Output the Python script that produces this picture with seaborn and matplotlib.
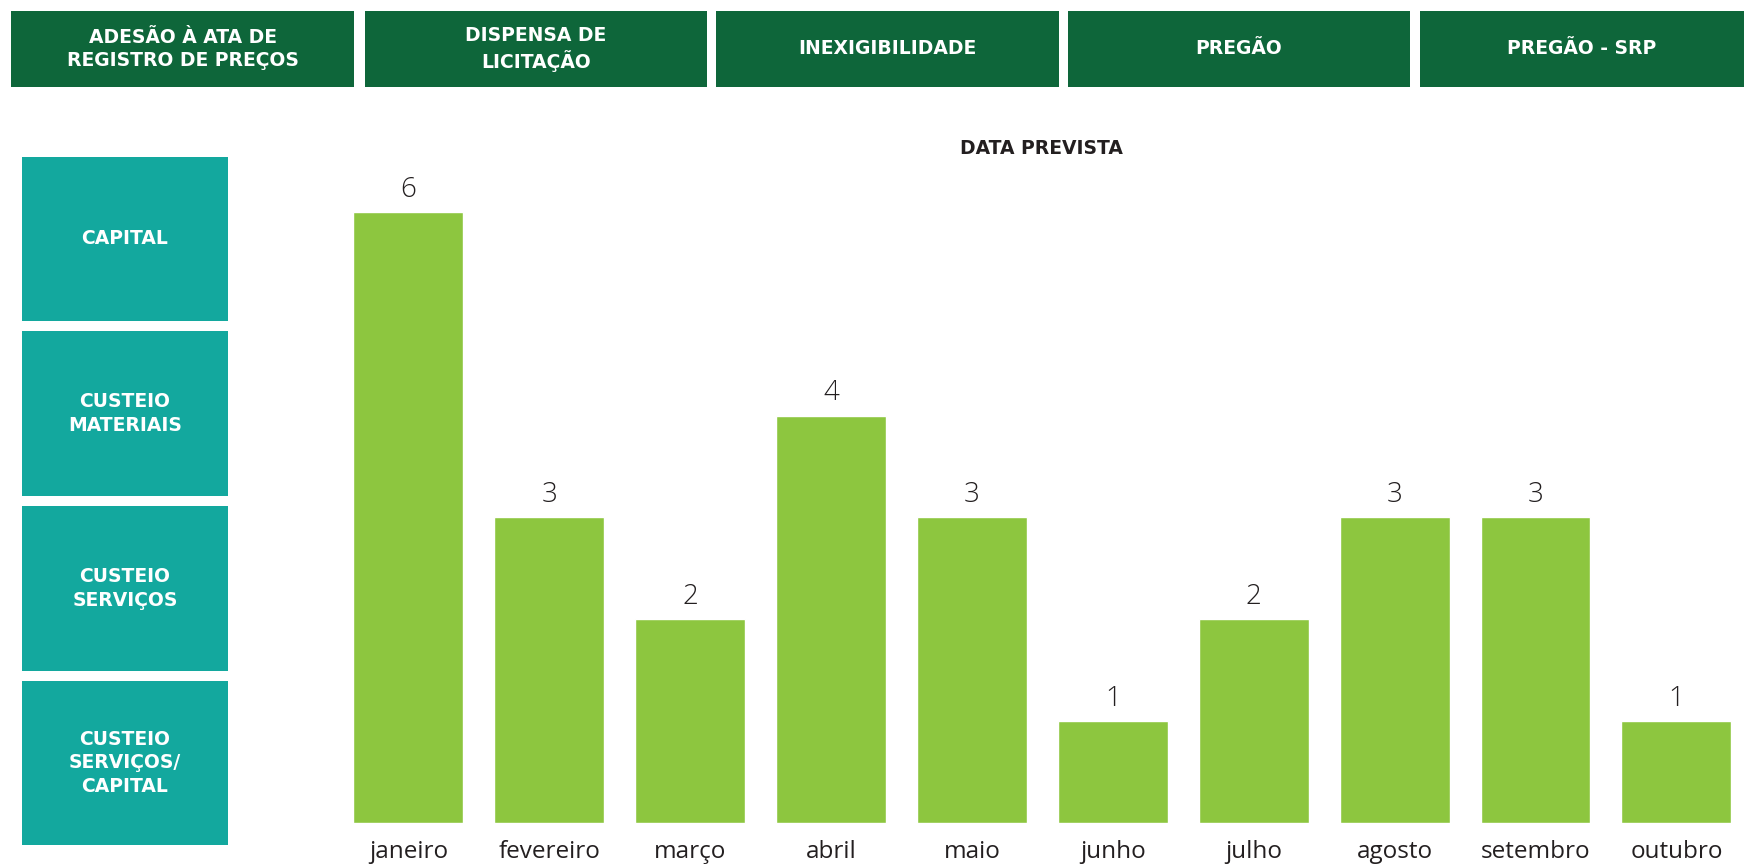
import matplotlib
matplotlib.use("Agg")
import matplotlib.pyplot as plt
from matplotlib.patches import Rectangle
import seaborn as sns
import pandas as pd

# ---- data ----
months = ["janeiro", "fevereiro", "março", "abril", "maio", "junho",
          "julho", "agosto", "setembro", "outubro"]
counts = [6, 3, 2, 4, 3, 1, 2, 3, 3, 1]
header_labels = ["ADESÃO À ATA DE\nREGISTRO DE PREÇOS", "DISPENSA DE\nLICITAÇÃO",
                 "INEXIGIBILIDADE", "PREGÃO", "PREGÃO - SRP"]
row_labels = ["CAPITAL", "CUSTEIO\nMATERIAIS", "CUSTEIO\nSERVIÇOS",
              "CUSTEIO\nSERVIÇOS/\nCAPITAL"]
chart_title = "DATA PREVISTA"

DARK_GREEN = "#0E663A"
TEAL = "#13A89E"
BAR_GREEN = "#8DC63F"
TEXT = "#231F20"

sns.set_theme(style="white")
plt.rcParams["font.family"] = ["Open Sans", "DejaVu Sans"]
BOLD_FAMILY = ["DejaVu Sans"]

W, H = 1744, 866
fig = plt.figure(figsize=(W / 100, H / 100), dpi=100)
fig.patch.set_facecolor("white")

def fx(px):
    return px / W

def fy(py):
    return 1 - py / H

# header boxes
header_x = [(11, 354), (365, 707), (716, 1059), (1068, 1410), (1420, 1744)]
for (x0, x1), lab in zip(header_x, header_labels):
    fig.add_artist(Rectangle((fx(x0), fy(87)), fx(x1 - x0), (87 - 11) / H,
                             transform=fig.transFigure, facecolor=DARK_GREEN,
                             edgecolor="none"))
    fig.text(fx((x0 + x1) / 2), fy(49), lab, ha="center", va="center",
             color="white", fontsize=13.5, fontweight="bold", linespacing=1.3,
             family=BOLD_FAMILY)

# row boxes
row_y = [(157, 321), (331, 496), (506, 671), (681, 845)]
for (y0, y1), lab in zip(row_y, row_labels):
    fig.add_artist(Rectangle((fx(22), fy(y1)), fx(228 - 22), (y1 - y0) / H,
                             transform=fig.transFigure, facecolor=TEAL,
                             edgecolor="none"))
    fig.text(fx(125), fy((y0 + y1) / 2), lab, ha="center", va="center",
             color="white", fontsize=13.5, fontweight="bold", linespacing=1.3,
             family=BOLD_FAMILY)

fig.text(fx(1041), fy(148), chart_title, ha="center", va="center",
         color=TEXT, fontsize=13.5, fontweight="bold", family=BOLD_FAMILY)

# bar chart
ax_left, ax_right = 338, 1744
ax_top, ax_bottom = 110, 823
ax = fig.add_axes([fx(ax_left), 1 - ax_bottom / H, fx(ax_right - ax_left),
                   (ax_bottom - ax_top) / H])
df = pd.DataFrame({"mes": months, "qtd": counts})
sns.barplot(data=df, x="mes", y="qtd", color=BAR_GREEN, saturation=1,
            width=0.78, ax=ax)
ax.set_xlim(-0.5, 9.48)
ax.set_ylim(0, 7)
for c in ax.containers:
    ax.bar_label(c, labels=[str(v) for v in counts], padding=6, fontsize=20,
                 fontweight="light", color=TEXT)
ax.set_xlabel("")
ax.set_ylabel("")
ax.set_yticks([])
ax.tick_params(axis="x", length=0, pad=12, labelsize=17.5, labelcolor=TEXT)
for s in ax.spines.values():
    s.set_visible(False)
ax.set_facecolor("none")

fig.savefig("out.png", dpi=100)
